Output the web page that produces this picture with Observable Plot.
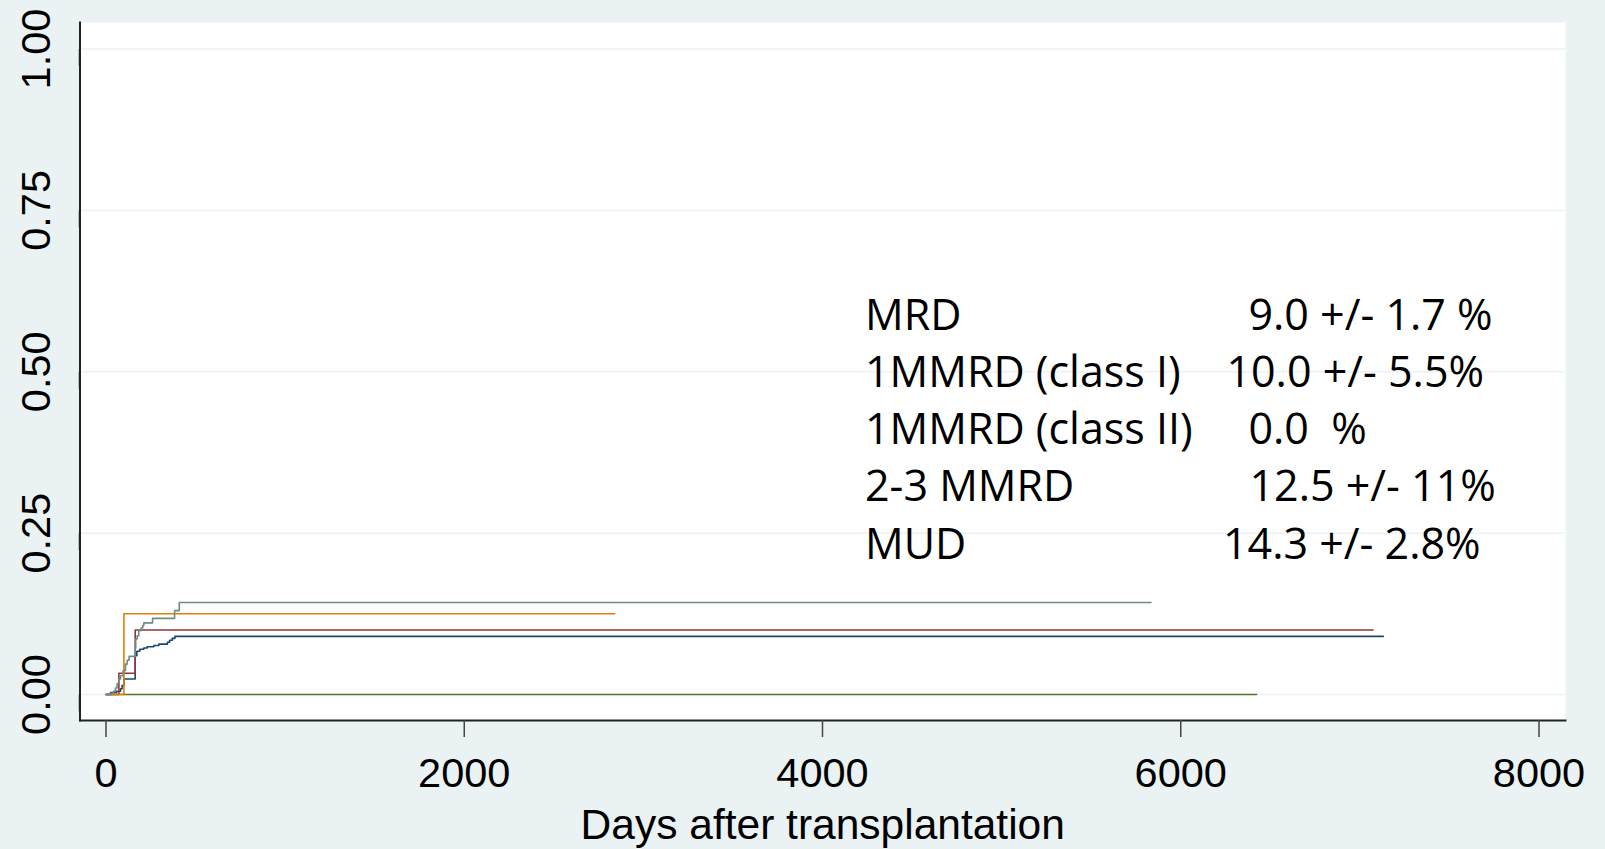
<!DOCTYPE html>
<html>
<head>
<meta charset="utf-8">
<script src="https://cdn.jsdelivr.net/npm/d3@7"></script>
<script src="https://cdn.jsdelivr.net/npm/@observablehq/plot@0.6"></script>
<style>
  html, body { margin: 0; padding: 0; background: #eaf2f3; }
  #chart svg { display: block; }
</style>
</head>
<body>
<div id="chart"></div>
<script>
// ---------------- data ----------------
const groups = ["MRD", "1MMRD (class I)", "1MMRD (class II)", "2-3 MMRD", "MUD"];
const legendValues = ["9.0 +/- 1.7 %", "10.0 +/- 5.5%", "0.0  %", "12.5 +/- 11%", "14.3 +/- 2.8%"];

const mrdDays = [0, 25, 59, 81, 90, 100, 163, 172, 189, 211, 230, 267, 295, 343, 355, 370, 385, 7131];
const mrdCif  = [0, 0.003, 0.005, 0.009, 0.014, 0.024, 0.060, 0.067, 0.070, 0.072, 0.074, 0.076, 0.078, 0.081, 0.084, 0.087, 0.090, 0.090];

const mm1ClassIDays = [0, 72, 163, 7074];
const mm1ClassICif  = [0, 0.033, 0.100, 0.100];

const mm1ClassIIDays = [0, 6423];
const mm1ClassIICif  = [0, 0];

const mm23Days = [0, 100, 2840];
const mm23Cif  = [0, 0.125, 0.125];

const mudDays = [0, 28, 42, 53, 62, 72, 81, 96, 109, 118, 129, 163, 166, 174, 183, 196, 205, 211, 260, 383, 409, 5834];
const mudCif  = [0, 0.002, 0.005, 0.010, 0.017, 0.024, 0.029, 0.037, 0.047, 0.053, 0.059, 0.072, 0.086, 0.091, 0.099, 0.103, 0.107, 0.111, 0.118, 0.130, 0.1425, 0.1425];

const xTicks = [0, 2000, 4000, 6000, 8000];
const yTicks = [0, 0.25, 0.5, 0.75, 1];
const xLabel = "Days after transplantation";

// ---------------- styles / layout ----------------
const colors = ["#1a476f", "#90353b", "#55752f", "#e37e00", "#6e8e84"];
const axisFont = "'Liberation Sans', Arial, Helvetica, sans-serif";
const legendFont = "'Open Sans', 'Noto Sans', sans-serif";
// annotation placement in data units (days, cumulative incidence)
const legendLabelX = 4237;
const legendValueX = [6378, 6255, 6378, 6384, 6236];
const legendTop = 0.5645;
const legendStep = 0.0885;

// ---------------- build tidy table ----------------
const seriesDays = [mrdDays, mm1ClassIDays, mm1ClassIIDays, mm23Days, mudDays];
const seriesCif  = [mrdCif, mm1ClassICif, mm1ClassIICif, mm23Cif, mudCif];
const rows = [];
seriesDays.forEach((days, i) => days.forEach((d, j) => rows.push({group: groups[i], day: d, cif: seriesCif[i][j]})));
const legendRows = groups.map((g, i) => ({label: g, value: legendValues[i], y: legendTop - i * legendStep, vx: legendValueX[i]}));

const plot = Plot.plot({
  width: 1605,
  height: 849,
  marginLeft: 79.5,
  marginRight: 40,
  marginTop: 22,
  marginBottom: 129,
  style: {background: "#eaf2f3", whiteSpace: "pre", color: "black"},
  x: {domain: [0, 8000], range: [105.5, 1538.5]},
  y: {domain: [0, 1], range: [694, 48.5]},
  color: {domain: groups, range: colors},
  marks: [
    Plot.frame({fill: "white", stroke: "none"}),
    Plot.gridY(yTicks, {stroke: "#eaf2f3", strokeOpacity: 1, strokeWidth: 1.5}),
    Plot.line(rows, {x: "day", y: "cif", z: "group", stroke: "group", curve: "step-after", strokeWidth: 1.6}),
    Plot.frame({anchor: "left", stroke: "#222", strokeWidth: 2}),
    Plot.frame({anchor: "bottom", stroke: "#222", strokeWidth: 2}),
    Plot.axisX(xTicks, {
      tickSize: 17, tickPadding: 20, tickFormat: d => String(d),
      fontSize: 41.5, fontFamily: axisFont, stroke: "#444", strokeWidth: 1.5, label: null
    }),
    Plot.axisY(yTicks, {
      tickSize: 17, tickPadding: 13.5, tickFormat: d3.format(".2f"),
      rotate: -90, textAnchor: "middle", lineAnchor: "bottom",
      fontSize: 41.5, fontFamily: axisFont, stroke: "#222", strokeWidth: 1.5, label: null
    }),
    Plot.text([xLabel], {text: d => d, frameAnchor: "bottom", dy: 88.5, lineAnchor: "top", fontSize: 42.5, fontFamily: axisFont, fill: "black"}),
    Plot.text(legendRows, {x: () => legendLabelX, y: "y", text: "label", textAnchor: "start", lineAnchor: "bottom", fontSize: 43, fontFamily: legendFont, fill: "black"}),
    Plot.text(legendRows, {x: "vx", y: "y", text: "value", textAnchor: "start", lineAnchor: "bottom", fontSize: 43, fontFamily: legendFont, fill: "black"})
  ]
});
document.getElementById("chart").appendChild(plot);
</script>
</body>
</html>
